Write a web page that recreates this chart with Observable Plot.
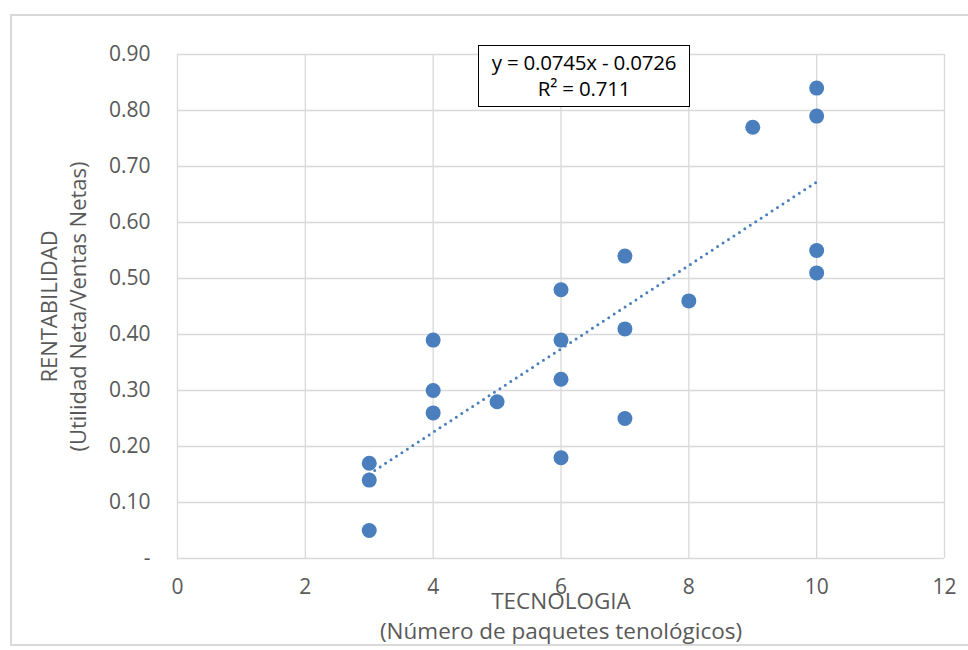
<!DOCTYPE html>
<html>
<head>
<meta charset="utf-8">
<script src="https://cdn.jsdelivr.net/npm/d3@7"></script>
<script src="https://cdn.jsdelivr.net/npm/@observablehq/plot@0.6"></script>
<style>
  html, body { margin: 0; padding: 0; background: #fff; overflow: hidden; }
  #wrap { position: relative; width: 968px; height: 650px; }
  #border {
    position: absolute; left: 10px; top: 14px; width: 980px; height: 632px;
    border: 2px solid #d9d9d9; box-sizing: border-box; pointer-events: none;
  }
  #eq {
    position: absolute; left: 478px; top: 45px; width: 212px; height: 62px;
    box-sizing: border-box; border: 1px solid #000; background: #fff;
    font-family: "Open Sans", Lato, sans-serif; font-size: 20.5px; color: #000;
    text-align: center; line-height: 26px; padding-top: 3px; white-space: nowrap;
    letter-spacing: -0.2px;
  }
  #chart { position: absolute; left: 0; top: 0; }
</style>
</head>
<body>
<div id="wrap">
  <div id="chart"></div>
  <div id="border"></div>
  <div id="eq"><div>y = 0.0745x - 0.0726</div><div>R² = 0.711</div></div>
</div>
<script>
// Technology packages per firm and resulting profitability
const tecnologia = [3, 3, 3, 4, 4, 4, 5, 6, 6, 6, 6, 7, 7, 7, 8, 9, 10, 10, 10, 10];
const rentabilidad = [0.17, 0.14, 0.05, 0.39, 0.30, 0.26, 0.28, 0.48, 0.39, 0.32, 0.18, 0.54, 0.41, 0.25, 0.46, 0.77, 0.84, 0.79, 0.55, 0.51];

// Linear trend line coefficients as printed in the equation label
const slope = 0.0745;
const intercept = -0.0726;
const trendRange = [3, 10];

const xTicks = [0, 2, 4, 6, 8, 10, 12];
const yTicks = [0, 0.1, 0.2, 0.3, 0.4, 0.5, 0.6, 0.7, 0.8, 0.9];

const xTitle = "TECNOLOGIA\n(Número de paquetes tenológicos)";
const yTitle = "RENTABILIDAD\n(Utilidad Neta/Ventas Netas)";

const points = tecnologia.map((x, i) => ({x, y: rentabilidad[i]}));
const trend = trendRange.map(x => ({x, y: slope * x + intercept}));

const font = "'Open Sans', Lato, sans-serif";
const grey = "#595959";
const blue = "#4a7ebd";

const chart = Plot.plot({
  width: 968,
  height: 650,
  marginLeft: 177,
  marginRight: 24,
  marginTop: 54,
  marginBottom: 92,
  style: {fontFamily: font, background: "#fff", overflow: "visible"},
  x: {domain: [0, 12]},
  y: {domain: [0, 0.9]},
  marks: [
    Plot.gridX(xTicks, {stroke: "#d9d9d9", strokeOpacity: 1, strokeWidth: 1.3}),
    Plot.gridY(yTicks, {stroke: "#d9d9d9", strokeOpacity: 1, strokeWidth: 1.3}),
    Plot.axisX(xTicks, {
      tickSize: 0, tickPadding: 21, fontSize: 21, fill: grey, label: null
    }),
    Plot.axisY(yTicks, {
      tickSize: 0, tickPadding: 27, fontSize: 21, fill: grey, label: null,
      tickFormat: d => d === 0 ? "-" : d3.format(".2f")(d)
    }),
    Plot.line(trend, {
      x: "x", y: "y", stroke: blue, strokeWidth: 3,
      strokeDasharray: "0 6.5", strokeLinecap: "round"
    }),
    Plot.dot(points, {x: "x", y: "y", r: 7.5, fill: blue, stroke: "none"}),
    Plot.text([xTitle], {
      frameAnchor: "bottom", lineAnchor: "top", dy: 29, lineHeight: 1.33,
      fontSize: 22.5, fill: grey
    }),
    Plot.text([yTitle], {
      frameAnchor: "left", textAnchor: "middle", rotate: -90, dx: -115,
      lineHeight: 1.3, fontSize: 22, fill: grey
    })
  ]
});

document.getElementById("chart").appendChild(chart);
</script>
</body>
</html>
